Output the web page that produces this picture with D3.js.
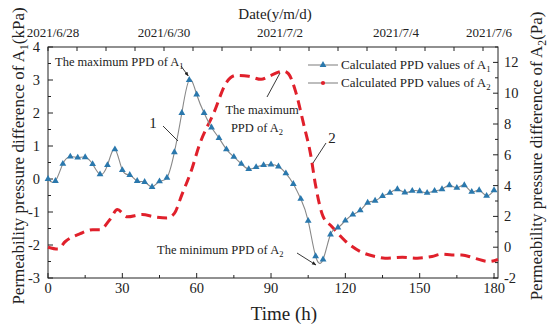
<!DOCTYPE html>
<html lang="en">
<head>
<meta charset="UTF-8">
<title>PPD chart</title>
<script src="https://cdn.jsdelivr.net/npm/d3@7"></script>
<style>
  body { margin: 0; background: #fff; }
  text { font-family: "Liberation Serif", "Times New Roman", serif; fill: #222; }
</style>
</head>
<body>
<script>

// blue series A1 (kPa), one value every 3 h
var timeA1 = d3.range(0, 181, 3);
var ppdA1 = [0.0, -0.06, 0.46, 0.68, 0.65, 0.66, 0.45, 0.14, 0.42, 0.9,
  0.27, 0.12, -0.06, -0.09, -0.24, -0.07, 0.04, 0.81, 2.0, 3.0,
  2.56, 2.0, 1.56, 1.24, 0.9, 0.67, 0.46, 0.3, 0.36, 0.42,
  0.44, 0.38, 0.17, -0.15, -0.6, -1.27, -2.34, -2.44, -1.68, -1.47,
  -1.26, -1.08, -0.95, -0.72, -0.66, -0.52, -0.42, -0.31, -0.41, -0.36,
  -0.37, -0.42, -0.36, -0.31, -0.19, -0.27, -0.19, -0.39, -0.34, -0.51, -0.34];

// red series A2 (Pa)
var timeA2 = [0, 4, 7, 13, 18, 21, 25, 28, 32, 38, 43, 48, 51, 54, 58, 61, 67, 72, 76, 81,
  86, 90, 95, 97, 100, 103, 106, 108, 111, 114.5, 120, 126, 132, 136, 143, 149, 155, 159,
  163, 167, 172, 178, 181.6];
var ppdA2 = [0.0, -0.12, 0.37, 0.88, 1.14, 1.14, 1.8, 2.44, 1.97, 2.12, 1.97, 1.9, 2.2, 3.4,
  5.05, 6.6, 8.75, 10.7, 11.16, 11.1, 10.9, 11.16, 11.44, 11.27, 10.07, 8.1, 6.0, 4.0, 2.0,
  1.35, 0.4, -0.28, -0.6, -0.71, -0.65, -0.71, -0.6, -0.45, -0.5, -0.5, -0.71, -0.93, -0.8];

var dateLabels = ["2021/6/28", "2021/6/30", "2021/7/2", "2021/7/4", "2021/7/6"];
var leftTicks = [-3, -2, -1, 0, 1, 2, 3, 4];
var rightTicks = [-2, 0, 2, 4, 6, 8, 10, 12];
var bottomTicks = [0, 30, 60, 90, 120, 150, 180];

var W = 550, H = 327;
var pl = 48, pr = 498, pt = 47, pb = 278;

var svg = d3.select("body").append("svg").attr("width", W).attr("height", H);

var x = d3.scaleLinear().domain([0, 181.6]).range([pl, pr]);
var yL = d3.scaleLinear().domain([-3, 4]).range([pb, pt]);
var yR = d3.scaleLinear().domain([-2, 13]).range([pb, pt]);
var t0 = new Date(2021, 5, 28);
var xTop = d3.scaleTime().domain([t0, new Date(t0.getTime() + (pr - pl) / 58 * 864e5)]).range([pl, pr]);

// helper: text with subscript parts
function rich(g, parts, size) {
  var shift = 0;
  parts.forEach(function (p) {
    var ts = g.append("tspan").text(p[0]);
    if (p[1]) {
      ts.attr("font-size", size * 0.68).attr("dy", size * 0.25);
      shift = size * 0.25;
    } else {
      ts.attr("font-size", size);
      if (shift) { ts.attr("dy", -shift); shift = 0; }
    }
  });
  return g;
}

// axes
var axisG = svg.append("g").attr("stroke", "#222").attr("stroke-width", 1).attr("fill", "none");
axisG.append("rect").attr("x", pl).attr("y", pt).attr("width", pr - pl).attr("height", pb - pt);

d3.range(-3, 4.01, 0.5).forEach(function (v) {
  var len = Number.isInteger(v) ? 5 : 3;
  axisG.append("line").attr("x1", pl).attr("x2", pl + len).attr("y1", yL(v)).attr("y2", yL(v));
});
d3.range(-2, 13.01, 1).forEach(function (v) {
  var len = v % 2 == 0 ? 5 : 3;
  axisG.append("line").attr("x1", pr).attr("x2", pr - len).attr("y1", yR(v)).attr("y2", yR(v));
});
d3.range(0, 181, 15).forEach(function (v) {
  var len = v % 30 == 0 ? 5 : 3;
  axisG.append("line").attr("x1", x(v)).attr("x2", x(v)).attr("y1", pb).attr("y2", pb - len);
});
var topTicks = xTop.ticks(d3.timeHour.every(12));
topTicks.forEach(function (d) {
  axisG.append("line").attr("x1", xTop(d)).attr("x2", xTop(d)).attr("y1", pt).attr("y2", pt + 4);
});

// tick labels
svg.selectAll(".lt").data(leftTicks).enter().append("text")
  .attr("x", pl - 8).attr("y", function (d) { return yL(d) + 5; })
  .attr("text-anchor", "end").attr("font-size", 14.5).text(function (d) { return d; });
svg.selectAll(".rt").data(rightTicks).enter().append("text")
  .attr("x", pr + 6).attr("y", function (d) { return yR(d) + 5; })
  .attr("font-size", 14.5).text(function (d) { return d; });
svg.selectAll(".bt").data(bottomTicks).enter().append("text")
  .attr("x", function (d) { return x(d); }).attr("y", pb + 15)
  .attr("text-anchor", "middle").attr("font-size", 14.5).text(function (d) { return d; });
svg.selectAll(".tt").data(dateLabels).enter().append("text")
  .attr("x", function (d, i) { return Math.min(489, Math.max(53, xTop(d3.timeDay.offset(t0, 2 * i)))); })
  .attr("y", 37).attr("text-anchor", "middle").attr("font-size", 13).text(function (d) { return d; });

// axis titles
svg.append("text").attr("x", 275).attr("y", 19).attr("text-anchor", "middle").attr("font-size", 15).text("Date(y/m/d)");
svg.append("text").attr("x", 284).attr("y", 320).attr("text-anchor", "middle").attr("font-size", 19).text("Time (h)");
rich(svg.append("text").attr("transform", "translate(24,156) rotate(-90)").attr("text-anchor", "middle"),
  [["Permeability pressure difference of A"], ["1", true], ["(kPa)"]], 17);
rich(svg.append("text").attr("transform", "translate(542,156) rotate(-90)").attr("text-anchor", "middle"),
  [["Permeability pressure difference of A"], ["2", true], ["(Pa)"]], 17);

// red dashed line A2
var redData = timeA2.map(function (t, i) { return [t, ppdA2[i]]; });
svg.append("path").datum(redData)
  .attr("fill", "none").attr("stroke", "#e0202b").attr("stroke-width", 3)
  .attr("stroke-dasharray", "10,6")
  .attr("d", d3.line().x(function (d) { return x(d[0]); }).y(function (d) { return yR(d[1]); }).curve(d3.curveMonotoneX));

// blue line A1
var blueData = timeA1.map(function (t, i) { return [t, ppdA1[i]]; });
svg.append("path").datum(blueData)
  .attr("fill", "none").attr("stroke", "#888").attr("stroke-width", 1.1)
  .attr("d", d3.line().x(function (d) { return x(d[0]); }).y(function (d) { return yL(d[1]); }).curve(d3.curveNatural));
svg.selectAll(".mk").data(blueData).enter().append("path")
  .attr("transform", function (d) { return "translate(" + x(d[0]) + "," + yL(d[1]) + ")"; })
  .attr("d", d3.symbol(d3.symbolTriangle).size(20)).attr("fill", "#2a78ad");

// legend
var legend = [["1", "#2a78ad", "tri"], ["2", "#e0202b", "dot"]];
legend.forEach(function (l, i) {
  var ly = 65 + i * 18;
  svg.append("line").attr("x1", 308).attr("x2", 338).attr("y1", ly).attr("y2", ly).attr("stroke", "#888").attr("stroke-width", 1.1);
  svg.append("path").attr("transform", "translate(323," + ly + ")")
    .attr("d", d3.symbol(l[2] == "tri" ? d3.symbolTriangle : d3.symbolCircle).size(l[2] == "tri" ? 20 : 14))
    .attr("fill", l[1]);
  rich(svg.append("text").attr("x", 341).attr("y", ly + 4), [["Calculated PPD values of A"], [l[0], true]], 13);
});

// annotations
svg.append("defs").append("marker").attr("id", "arr").attr("viewBox", "0 0 10 10")
  .attr("refX", 9).attr("refY", 5).attr("markerWidth", 5).attr("markerHeight", 5).attr("orient", "auto")
  .append("path").attr("d", "M0,1L10,5L0,9z").attr("fill", "#222");

function leader(x1, y1, x2, y2, arrow) {
  var ln = svg.append("line").attr("x1", x1).attr("y1", y1).attr("x2", x2).attr("y2", y2)
    .attr("stroke", "#222").attr("stroke-width", 0.9);
  if (arrow) ln.attr("marker-end", "url(#arr)");
}

rich(svg.append("text").attr("x", 55).attr("y", 66), [["The maximum PPD of A"], ["1", true]], 12.5);
leader(181, 66, x(57) - 1, yL(3.0) - 4, true);

svg.append("text").attr("x", 262).attr("y", 114).attr("text-anchor", "middle").attr("font-size", 12.5).text("The maximum");
rich(svg.append("text").attr("x", 257).attr("y", 132).attr("text-anchor", "middle"), [["PPD of A"], ["2", true]], 12.5);
leader(267, 97, 280, 73, false);

rich(svg.append("text").attr("x", 157).attr("y", 254), [["The minimum PPD of A"], ["2", true]], 12.5);
leader(297, 253, 316, 265, true);

svg.append("text").attr("x", 153).attr("y", 128).attr("text-anchor", "middle")
  .attr("font-family", "Liberation Sans, Arial, sans-serif").attr("font-size", 15).text("1");
leader(163, 126, 178, 141, false);
svg.append("text").attr("x", 332).attr("y", 143).attr("text-anchor", "middle")
  .attr("font-family", "Liberation Sans, Arial, sans-serif").attr("font-size", 15).text("2");
leader(313, 163, 326, 143, false);

</script>
</body>
</html>
